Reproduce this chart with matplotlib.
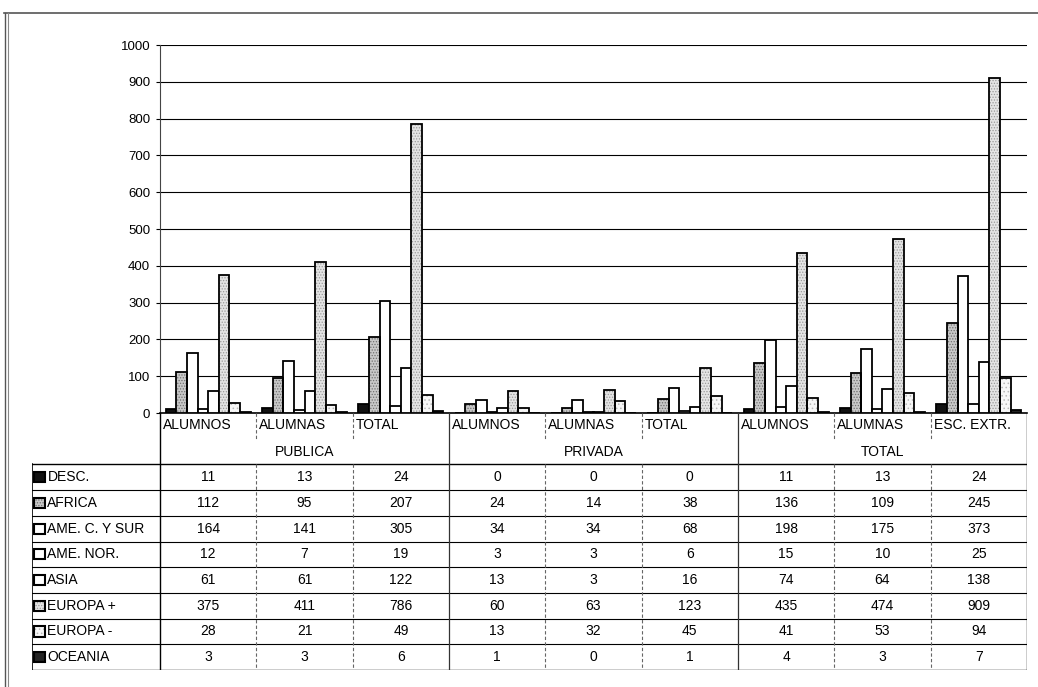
import matplotlib
matplotlib.use("Agg")
import matplotlib.pyplot as plt
from matplotlib.patches import Rectangle
import numpy as np

plt.rcParams['font.family'] = ['Liberation Sans', 'DejaVu Sans']
plt.rcParams['hatch.linewidth'] = 0.6

groups = ['ALUMNOS', 'ALUMNAS', 'TOTAL', 'ALUMNOS', 'ALUMNAS', 'TOTAL',
          'ALUMNOS', 'ALUMNAS', 'ESC. EXTR.']
supergroups = ['PUBLICA', 'PRIVADA', 'TOTAL']
series = ['DESC.', 'AFRICA', 'AME. C. Y SUR', 'AME. NOR.', 'ASIA',
          'EUROPA +', 'EUROPA -', 'OCEANIA']

desc = [11, 13, 24, 0, 0, 0, 11, 13, 24]
africa = [112, 95, 207, 24, 14, 38, 136, 109, 245]
ame_sur = [164, 141, 305, 34, 34, 68, 198, 175, 373]
ame_nor = [12, 7, 19, 3, 3, 6, 15, 10, 25]
asia = [61, 61, 122, 13, 3, 16, 74, 64, 138]
europa_mas = [375, 411, 786, 60, 63, 123, 435, 474, 909]
europa_menos = [28, 21, 49, 13, 32, 45, 41, 53, 94]
oceania = [3, 3, 6, 1, 0, 1, 4, 3, 7]
values = [desc, africa, ame_sur, ame_nor, asia, europa_mas, europa_menos, oceania]

# fill colour, hatch, hatch colour for each series
faces = ['#111111', '#c8c8c8', 'white', 'white', 'white', '#e4e4e4', '#f6f6f6', '#222222']
hatches = [None, '......', None, None, None, '......', '....', None]
hcolors = [None, '#707070', None, None, None, '#9a9a9a', '#b8b8b8', None]

W, H = 1038, 687
fig = plt.figure(figsize=(W / 100, H / 100), dpi=100)
FS = 10

# outer frame
fig.add_artist(plt.Line2D([4 / W, 1.0], [1 - 13 / H] * 2, color='#555555', lw=1.2))
fig.add_artist(plt.Line2D([5 / W] * 2, [0, 1 - 13 / H], color='#555555', lw=1.0))
fig.add_artist(plt.Line2D([8 / W] * 2, [0, 1 - 13 / H], color='#888888', lw=0.8))

# chart
ax = fig.add_axes([160 / W, (H - 413) / H, (1027 - 160) / W, (413 - 45) / H])
x = np.arange(len(groups))
bw = 0.11
for i, (vals, fc, h, hc) in enumerate(zip(values, faces, hatches, hcolors)):
    pos = x - 0.44 + bw * (i + 0.5)
    if h:
        ax.bar(pos, vals, bw, color=fc, edgecolor=hc, linewidth=0, hatch=h, zorder=3)
        ax.bar(pos, vals, bw, fill=False, edgecolor='black', linewidth=1.3, zorder=4)
    else:
        ax.bar(pos, vals, bw, color=fc, edgecolor='black', linewidth=1.3, zorder=3)
ax.set_xlim(-0.5, len(groups) - 0.5)
ax.set_ylim(0, 1000)
ax.set_yticks(range(0, 1001, 100))
ax.tick_params(axis='y', labelsize=FS - 0.5, length=3, pad=4)
ax.set_xticks([])
ax.grid(axis='y', color='black', lw=0.8, zorder=0)
for s in ['top', 'right']:
    ax.spines[s].set_visible(False)
ax.spines['left'].set_color('#444444')
ax.spines['left'].set_linestyle((0, (2, 1)))
ax.spines['bottom'].set_linewidth(1.2)

# data table under the chart
tax = fig.add_axes([32 / W, (H - 670) / H, (1027 - 32) / W, (670 - 413) / H])
lab_w = 128 / ((1027 - 160) / len(groups))
tax.set_xlim(-0.5 - lab_w, len(groups) - 0.5)
tax.set_ylim(10, 0)
tax.axis('off')
left = -0.5 - lab_w
right = len(groups) - 0.5

for r in range(2, 11):
    tax.plot([left, right], [r, r], color='black', lw=1.0 if r in (2, 10) else 0.8)
tax.plot([left, left], [2, 10], color='black', lw=1.2)
tax.plot([-0.5, -0.5], [0, 10], color='black', lw=1.0)
tax.plot([right, right], [0, 10], color='black', lw=1.0)
for k in range(1, len(groups)):
    xs = k - 0.5
    if k % 3 == 0:
        tax.plot([xs, xs], [0, 10], color='#333333', lw=0.9)
    else:
        tax.plot([xs, xs], [0, 1], color='#666666', lw=0.8, ls=(0, (3, 2)))
        tax.plot([xs, xs], [2, 10], color='#666666', lw=0.8, ls=(0, (3, 2)))

for g, name in enumerate(groups):
    tax.text(g - 0.47, 0.45, name, ha='left', va='center', fontsize=FS)
for s, name in enumerate(supergroups):
    tax.text(s * 3 + 1, 1.5, name, ha='center', va='center', fontsize=FS)

for i, (name, vals, fc, h, hc) in enumerate(zip(series, values, faces, hatches, hcolors)):
    yc = 2.5 + i
    sw = Rectangle((left + 0.025, yc - 0.2), 0.115, 0.4, facecolor=fc,
                   edgecolor=hc if h else 'black', lw=0, hatch=h)
    tax.add_patch(sw)
    tax.add_patch(Rectangle((left + 0.025, yc - 0.2), 0.115, 0.4, fill=False,
                            edgecolor='black', lw=1.5))
    tax.text(left + 0.16, yc, name, ha='left', va='center', fontsize=FS)
    for g, v in enumerate(vals):
        tax.text(g, yc, str(v), ha='center', va='center', fontsize=FS)

fig.savefig('out.png', dpi=100, facecolor='white')
